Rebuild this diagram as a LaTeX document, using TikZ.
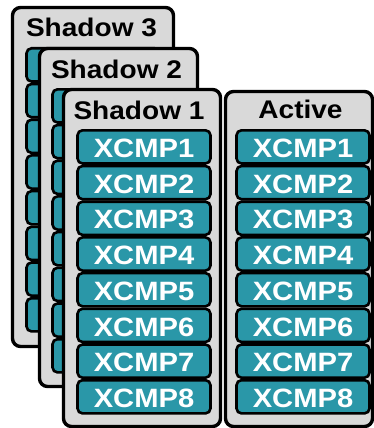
\documentclass[tikz,border=0pt]{standalone}
\usepackage{fontspec}
\newfontfamily\labfont{Liberation Sans}[FakeStretch=1.1]
\definecolor{panelgray}{HTML}{D9D9D9}
\definecolor{xteal}{HTML}{2A97A8}
\begin{document}
\begin{tikzpicture}[x=1pt,y=-1pt,
  panel/.style={draw=black, line width=3.4pt, fill=panelgray, rounded corners=8pt,
    outer sep=0pt, inner sep=0pt, anchor=north west},
  ptitle/.style={inner sep=0pt, text=black, font=\labfont\bfseries\fontsize{25.5}{27}\selectfont},
  xbox/.style={draw=black, line width=2.6pt, fill=xteal, rounded corners=5pt,
    outer sep=0pt, inner sep=0pt, anchor=north west, minimum width=133pt, minimum height=33.2pt},
  xlabel/.style={inner sep=0pt, text=white, font=\labfont\bfseries\fontsize{26.5}{28}\selectfont}]
\clip (0,0) rectangle (374,428);
% Shadow 3
\node[panel, minimum width=161pt, minimum height=339pt] (s3) at (12.5,7.5) {};
\node[ptitle] (s3t) at (91.5,27.5) {Shadow 3};
\foreach \i in {1,...,8} {
  \node[xbox] (s3b\i) at (26.5,{48.3+35.7*(\i-1)}) {};
}
% Shadow 2
\node[panel, minimum width=158pt, minimum height=338pt] (s2) at (39.5,48.5) {};
\node[ptitle] (s2t) at (116.5,69) {Shadow 2};
\foreach \i in {1,...,8} {
  \node[xbox] (s2b\i) at (52.5,{89.3+35.7*(\i-1)}) {};
}
% Shadow 1
\node[panel, minimum width=157pt, minimum height=337pt] (s1) at (63.5,89.5) {};
\node[ptitle] (s1t) at (139,110) {Shadow 1};
\foreach \i in {1,...,8} {
  \node[xbox] (s1b\i) at (77.5,{130.3+35.7*(\i-1)}) {};
  \node[xlabel] (s1l\i) at ([yshift=-1.5pt]s1b\i.center) {XCMP\i};
}
% Active
\node[panel, minimum width=147pt, minimum height=335pt] (ac) at (225.5,91.5) {};
\node[ptitle] (act) at (300.5,109.5) {Active};
\foreach \i in {1,...,8} {
  \node[xbox] (acb\i) at (236.5,{130.3+35.7*(\i-1)}) {};
  \node[xlabel] (acl\i) at ([yshift=-1.5pt]acb\i.center) {XCMP\i};
}
\end{tikzpicture}
\end{document}
